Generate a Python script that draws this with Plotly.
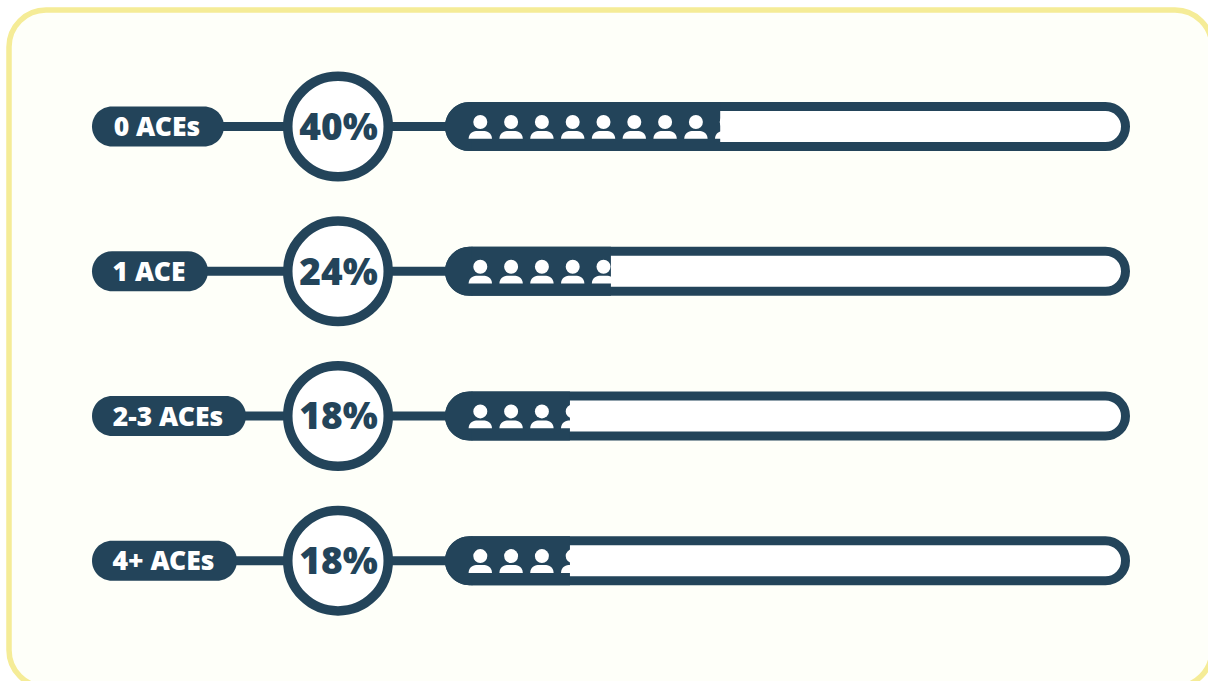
import plotly.graph_objects as go

# ---- data ----
categories = ["0 ACEs", "1 ACE", "2-3 ACEs", "4+ ACEs"]
percentages = [40, 24, 18, 18]

# ---- layout constants (pixels) ----
W, H = 1208, 681
NAVY = "#23445A"
CREAM = "#FEFFF9"
YELLOW = "#F5EC97"
ROW_TOP, ROW_STEP = 126.6, 144.7
BAR_L, BAR_R, BAR_H, BAR_STROKE = 445, 1130, 49, 9
FILL_L = BAR_L + 2
CIRCLE_X, CIRCLE_R, CIRCLE_STROKE = 338, 55, 9.5
PILL_L = [92, 92, 92, 92]
PILL_R = [224, 208, 246, 237]
PILL_H = 40
ICON_X0, ICON_STEP = 480.3, 30.8
TEXT_DY_LABEL, TEXT_DY_PCT = 3.0, 4.0
K = 0.5523
CAP_PCT = (BAR_H / 2) / (BAR_R - FILL_L) * 100


def rrect(x0, y0, x1, y1, r):
    c = r * (1 - K)
    return (
        f"M{x0+r},{y0} L{x1-r},{y0} C{x1-c},{y0} {x1},{y0+c} {x1},{y0+r} "
        f"L{x1},{y1-r} C{x1},{y1-c} {x1-c},{y1} {x1-r},{y1} "
        f"L{x0+r},{y1} C{x0+c},{y1} {x0},{y1-c} {x0},{y1-r} "
        f"L{x0},{y0+r} C{x0},{y0+c} {x0+c},{y0} {x0+r},{y0} Z"
    )


def left_cap(x0, x1, y0, y1):
    r = (y1 - y0) / 2
    c = r * (1 - K)
    return (
        f"M{x1},{y0} L{x0+r},{y0} C{x0+c},{y0} {x0},{y0+c} {x0},{y0+r} "
        f"C{x0},{y1-c} {x0+c},{y1} {x0+r},{y1} L{x1},{y1} Z"
    )


def person(cx, cy):
    hw, top, bot = 11.7, cy + 4.4, cy + 12.2
    return (
        f"M{cx-hw},{bot} C{cx-hw},{top+1.5} {cx-6},{top} {cx-3},{top} "
        f"L{cx+3},{top} C{cx+6},{top} {cx+hw},{top+1.5} {cx+hw},{bot} Z"
    )


shapes = [
    dict(type="path", path=rrect(9, 10, 1212, 687, 37), fillcolor=CREAM,
         line=dict(color=YELLOW, width=5.5), xref="x", yref="y", layer="below")
]

for i, pct in enumerate(percentages):
    yc = ROW_TOP + i * ROW_STEP
    common = dict(xref="x", yref="y", layer="below")
    # connectors
    shapes.append(dict(type="line", x0=PILL_R[i] - 5, x1=CIRCLE_X, y0=yc, y1=yc,
                       line=dict(color=NAVY, width=9), **common))
    shapes.append(dict(type="line", x0=CIRCLE_X, x1=BAR_L + 5, y0=yc, y1=yc,
                       line=dict(color=NAVY, width=9), **common))
    # label pill
    shapes.append(dict(type="path", path=rrect(PILL_L[i], yc - PILL_H / 2, PILL_R[i], yc + PILL_H / 2, PILL_H / 2),
                       fillcolor=NAVY, line=dict(width=0), **common))
    # circle
    r = CIRCLE_R - CIRCLE_STROKE / 2
    shapes.append(dict(type="circle", x0=CIRCLE_X - r, x1=CIRCLE_X + r, y0=yc - r, y1=yc + r,
                       fillcolor="white", line=dict(color=NAVY, width=CIRCLE_STROKE), **common))
    # track
    s = BAR_STROKE / 2
    shapes.append(dict(type="path",
                       path=rrect(BAR_L + s, yc - BAR_H / 2 + s, BAR_R - s, yc + BAR_H / 2 - s, BAR_H / 2 - s),
                       fillcolor="white", line=dict(color=NAVY, width=BAR_STROKE), **common))
    # left cap of the filled part
    shapes.append(dict(type="path", path=left_cap(BAR_L, FILL_L + BAR_H / 2 + 1, yc - BAR_H / 2, yc + BAR_H / 2),
                       fillcolor=NAVY, line=dict(width=0), **common))
    # people: white on top of the fill, the next one bites into its end
    fill_end = FILL_L + pct / 100 * (BAR_R - FILL_L)
    n = 0
    while ICON_X0 + n * ICON_STEP - 12 < fill_end:
        cx = ICON_X0 + n * ICON_STEP
        above = dict(xref="x", yref="y", layer="above")
        shapes.append(dict(type="circle", x0=cx - 7, x1=cx + 7, y0=yc - 11.6, y1=yc + 2.4,
                           fillcolor="white", line=dict(width=0), **above))
        shapes.append(dict(type="path", path=person(cx, yc),
                           fillcolor="white", line=dict(width=0), **above))
        n += 1

fig = go.Figure()

# text on the pixel axes
rows_y = [ROW_TOP + i * ROW_STEP for i in range(len(categories))]
fig.add_trace(go.Scatter(
    x=[(l + r) / 2 - 1 for l, r in zip(PILL_L, PILL_R)], y=[y + TEXT_DY_LABEL for y in rows_y], mode="text",
    text=categories, textposition="middle center",
    textfont=dict(family="Noto Sans", size=26.5, color="white", weight=900),
    hoverinfo="skip", showlegend=False, xaxis="x", yaxis="y"))
fig.add_trace(go.Scatter(
    x=[CIRCLE_X + 0.5] * len(percentages), y=[y + TEXT_DY_PCT for y in rows_y], mode="text",
    text=[f"{p}%" for p in percentages], textposition="middle center",
    textfont=dict(family="Noto Sans", size=37, color=NAVY, weight=900),
    hoverinfo="skip", showlegend=False, xaxis="x", yaxis="y"))

# filled bars on their own percent axis
fig.add_trace(go.Bar(
    y=categories, x=[p - CAP_PCT for p in percentages], base=CAP_PCT, orientation="h",
    width=BAR_H / ROW_STEP, marker=dict(color=NAVY, line=dict(width=0)),
    hoverinfo="skip", showlegend=False, xaxis="x2", yaxis="y2"))

hidden = dict(visible=False, showgrid=False, zeroline=False, fixedrange=True)
fig.update_layout(
    width=W, height=H,
    margin=dict(l=0, r=0, t=0, b=0),
    paper_bgcolor="white",
    plot_bgcolor="rgba(0,0,0,0)",
    shapes=shapes,
    showlegend=False,
    xaxis=dict(range=[0, W], domain=[0, 1], anchor="y", **hidden),
    yaxis=dict(range=[H, 0], domain=[0, 1], anchor="x", **hidden),
    xaxis2=dict(range=[0, 100], domain=[FILL_L / W, BAR_R / W], anchor="y2", **hidden),
    yaxis2=dict(type="category", categoryorder="array", categoryarray=categories,
                range=[(H - ROW_TOP) / ROW_STEP, -ROW_TOP / ROW_STEP],
                domain=[0, 1], anchor="x2", **hidden),
)

fig.write_html("out.html", config=dict(displayModeBar=False),
               post_script="document.body.style.margin='0';document.documentElement.style.overflow='hidden';")
